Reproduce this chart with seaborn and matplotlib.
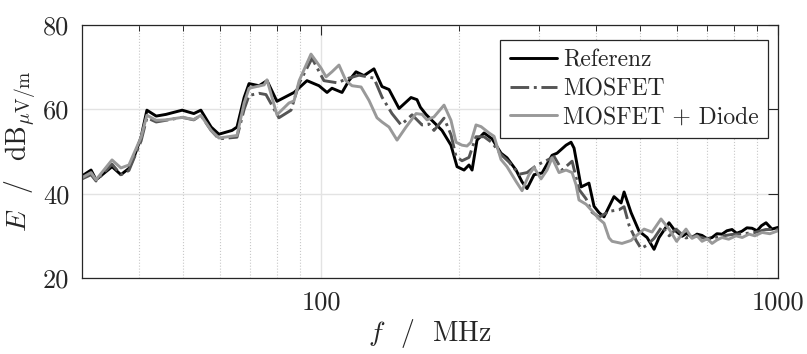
import numpy as np
import pandas as pd
import matplotlib
matplotlib.use("Agg")
import matplotlib.pyplot as plt
import seaborn as sns
from matplotlib.ticker import FixedLocator, FixedFormatter, NullFormatter

# ---------------- data ----------------
ref_f = [30, 31.4, 32.2, 34.9, 36.5, 38.0, 39.0, 40.4, 41.6, 43.6, 45.8, 49.7, 52.7, 54.6,
         57.5, 59.8, 63.9, 65.5, 67.9, 69.6, 73.2, 76.2, 80.1, 87.3, 93.2, 99.0, 103.1, 105.7,
         111.2, 115.1, 119.3, 124.2, 130.6, 136.0, 140.9, 148.2, 157.4, 162.2, 165.0, 169.7,
         176.7, 184.0, 192.5, 198.5, 205.6, 210.8, 214.1, 219.5, 227.4, 236.8, 247.7, 255.3,
         267.2, 275.4, 282.4, 292.6, 304.6, 320.4, 328.5, 343.8, 352.5, 357.9, 370.9, 385.8,
         395.8, 405.9, 416.2, 437.7, 453.6, 460.5, 477.0, 496.6, 517.0, 535.6, 549.2, 577.5,
         592.3, 616.9, 632, 648.6, 665, 682.1, 700, 717.3, 735, 754.3, 773, 793.2, 812, 834.2,
         855, 877.2, 900, 920, 941.5, 970, 1000]
ref_E = [44.2, 45.6, 43.3, 46.4, 44.5, 46.0, 48.7, 53.4, 59.8, 58.4, 58.8, 59.8, 59.0, 59.8,
         55.8, 54.1, 55.0, 55.8, 62.8, 66.1, 65.6, 66.8, 61.9, 64.0, 66.8, 65.6, 64.0, 65.0,
         64.0, 66.8, 68.9, 68.0, 69.6, 65.4, 64.7, 60.2, 62.8, 62.3, 60.5, 58.8,
         56.9, 55.0, 51.5, 46.4, 45.6, 46.8, 45.6, 52.7, 54.4, 53.0, 49.6, 48.5,
         45.6, 42.8, 41.2, 44.5, 44.9, 49.1, 49.6, 51.5, 52.2, 50.8, 41.6, 42.5,
         37.0, 35.5, 34.5, 39.3, 37.8, 40.4, 35.5, 31.1, 29.6, 26.8, 29.6, 33.1,
         31.5, 29.9, 30.6, 29.6, 30.4, 30.1, 29.3, 29.6, 30.5, 30.4, 31.2, 31.5, 30.6, 31.1,
         31.9, 31.8, 31.2, 32.4, 33.1, 31.6, 32.0]

mos_f = [30, 31.4, 32.2, 34.9, 36.5, 38.0, 40.4, 41.6, 43.6, 45.8, 49.7, 52.7, 54.6, 57.5,
         59.8, 65.5, 67.9, 69.6, 73.2, 75.8, 80.9, 86.0, 89.6, 95.6, 101.5, 108.4, 115.1,
         121.1, 130.6, 136.0, 143.0, 149.7, 158.2, 166.4, 172.4, 176.7, 185.9, 192.5, 197.5,
         203.5, 210.8, 218.4, 227.4, 236.8, 247.7, 257.9, 271.2, 282.4, 297.0, 310.8, 323.7,
         336.9, 354.4, 366.9, 380.1, 391.8, 405.9, 426.9, 449.1, 460.5, 472.2, 489.3, 501.6,
         517.0, 535.6, 557.4, 578, 598.2, 629.1, 660, 700, 740, 790, 840, 890, 940, 1000]
mos_E = [43.5, 44.5, 43.0, 47.0, 44.5, 45.5, 52.5, 58.0, 57.0, 57.4, 58.1, 57.5, 58.6, 55.0,
         53.0, 53.4, 60.0, 63.3, 63.8, 63.5, 58.0, 59.8, 66.2, 72.1, 66.8, 66.3, 67.4,
         68.1, 67.4, 62.9, 59.0, 56.3, 58.7, 56.3, 56.5, 55.0, 57.9, 54.0, 48.8,
         47.8, 48.6, 53.5, 53.5, 52.1, 49.3, 47.5, 44.6, 45.0, 46.8, 47.8, 48.8,
         45.6, 47.7, 41.0, 38.8, 35.6, 34.4, 35.8, 36.2, 36.9, 32.5, 28.9, 27.0,
         27.8, 29.4, 32.2, 30.0, 31.6, 29.5, 30.0, 29.2, 29.8, 30.3, 30.5, 30.8, 31.5, 31.5]

dio_f = [30, 31.4, 32.2, 34.9, 36.5, 38.0, 40.4, 41.6, 43.6, 45.8, 49.7, 52.7, 54.6, 57.5,
         59.8, 65.5, 67.9, 69.6, 75.1, 76.2, 80.1, 85.1, 87.3, 89.6, 95.1, 100.0, 102.6,
         105.7, 109.5, 113.4, 116.9, 122.4, 127.4, 132.6, 136.0, 140.9, 146.7, 153.5, 161.5,
         166.4, 170.6, 176.7, 185.9, 192.5, 197.5, 203.5, 208.7, 212.9, 218.4, 224.0, 233.2,
         239.2, 247.7, 255.3, 267.2, 275.4, 285.2, 292.6, 303.0, 312.3, 320.4, 331.8, 343.8,
         354.4, 361.5, 366.9, 380.1, 395.0, 405.9, 416.2, 426.9, 433.5, 455.7, 477.0, 489.3,
         509.4, 530.1, 554.7, 577.5, 600.0, 629.1, 648.6, 665, 682.1, 700, 717.3, 735, 754.3,
         780, 809.4, 835, 864.0, 890, 922.8, 960, 1000]
dio_E = [43.8, 45.0, 43.3, 48.0, 46.1, 46.8, 53.4, 58.6, 57.4, 57.5, 58.1, 57.6, 58.6, 55.0,
         53.2, 53.8, 61.5, 65.0, 65.8, 67.0, 58.7, 61.5, 62.0, 66.8, 73.1, 69.8, 67.7,
         68.9, 70.5, 66.8, 65.6, 65.3, 62.1, 58.0, 57.0, 55.8, 52.7, 55.8, 59.0,
         58.8, 57.5, 58.2, 61.0, 57.4, 52.2, 51.5, 51.3, 52.2, 56.3, 55.9, 54.4,
         53.6, 48.1, 46.4, 42.9, 40.7, 44.5, 46.2, 43.5, 45.6, 48.5, 45.0, 45.6,
         45.0, 42.1, 38.5, 37.5, 35.5, 34.0, 33.0, 29.5, 28.7, 28.2, 28.9, 30.0,
         31.6, 30.9, 34.0, 31.6, 28.7, 31.6, 29.4, 30.0, 28.7, 29.3, 28.2, 29.0, 29.6,
         29.2, 30.0, 29.6, 30.4, 30.0, 30.8, 30.5, 31.2]

series_names = ["Referenz", "MOSFET", "MOSFET + Diode"]
x_ticks = [100, 1000]
x_tick_labels = ["100", "1000"]
x_minor = [40, 50, 60, 70, 80, 90, 200, 300, 400, 500, 600, 700, 800, 900]
y_ticks = [20, 40, 60, 80]

# ---------------- style ----------------
sns.set_style("white")
plt.rcParams["font.family"] = ["cmr10", "DejaVu Serif"]
plt.rcParams["mathtext.fontset"] = "cm"
plt.rcParams["axes.formatter.use_mathtext"] = True

fig = plt.figure(figsize=(8.07, 3.54), dpi=100)
ax = fig.add_axes([82 / 807, 1 - 278 / 354, (778 - 82) / 807, (278 - 25) / 354])

styles = [("#000000", "-"), ("#555555", "-."), ("#999999", "-")]
for (fx, ey), name, (c, ls) in zip([(ref_f, ref_E), (mos_f, mos_E), (dio_f, dio_E)],
                                    series_names, styles):
    df = pd.DataFrame({"f": fx, "E": ey})
    sns.lineplot(data=df, x="f", y="E", ax=ax, color=c, linestyle=ls, lw=2.1,
                 label=name, estimator=None, sort=False,
                 solid_joinstyle="round", dash_joinstyle="round")

ax.set_xscale("log")
ax.set_xlim(30, 1000)
ax.set_ylim(20, 80)
ax.xaxis.set_major_locator(FixedLocator(x_ticks))
ax.xaxis.set_major_formatter(FixedFormatter(x_tick_labels))
ax.xaxis.set_minor_locator(FixedLocator(x_minor))
ax.xaxis.set_minor_formatter(NullFormatter())
ax.set_yticks(y_ticks)
ax.set_yticklabels([str(v) for v in y_ticks])

ax.set_axisbelow(True)
ax.grid(which="major", axis="both", color="#e3e3e3", lw=1.0, ls="-")
ax.grid(which="minor", axis="x", color="#c8c8c8", lw=0.8, ls=":")

for s in ax.spines.values():
    s.set_color("#262626")
    s.set_linewidth(0.9)
ax.tick_params(which="major", direction="in", length=7, width=0.8, color="#262626",
               top=True, right=True, labelsize=19, pad=9, labelcolor="#262626")
ax.tick_params(which="minor", direction="in", length=4, width=0.7, color="#262626",
               top=True, right=True)

ax.set_xlabel(r"$f$  /  MHz", fontsize=20, color="#262626", labelpad=2)
ax.set_ylabel(r"$E$  /  dB$_{\mu\mathrm{V/m}}$", fontsize=20, color="#262626", labelpad=4)

leg = ax.legend(loc="upper right", bbox_to_anchor=((768 - 82) / 696, (278 - 40) / 253),
                borderaxespad=0, fontsize=17, frameon=True, fancybox=False, framealpha=1,
                handlelength=2.0, handletextpad=0.25, labelspacing=0.27, borderpad=0.4)
leg.get_frame().set_edgecolor("#262626")
leg.get_frame().set_linewidth(0.9)
for t in leg.get_texts():
    t.set_color("#262626")

fig.savefig("out.png", dpi=100)
